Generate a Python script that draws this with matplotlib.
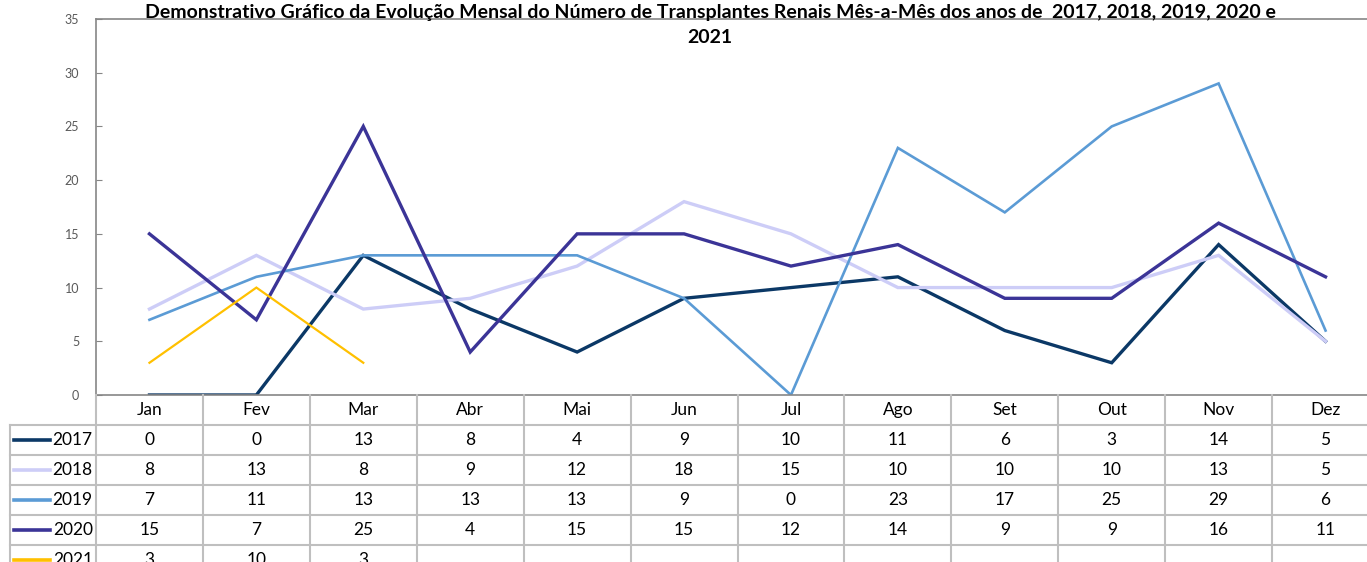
import matplotlib
matplotlib.use("Agg")
import matplotlib.pyplot as plt
from matplotlib.lines import Line2D

plt.rcParams['font.family'] = ['Lato', 'DejaVu Sans']

meses = ['Jan', 'Fev', 'Mar', 'Abr', 'Mai', 'Jun', 'Jul', 'Ago', 'Set', 'Out', 'Nov', 'Dez']
anos = ['2017', '2018', '2019', '2020', '2021']
v2017 = [0, 0, 13, 8, 4, 9, 10, 11, 6, 3, 14, 5]
v2018 = [8, 13, 8, 9, 12, 18, 15, 10, 10, 10, 13, 5]
v2019 = [7, 11, 13, 13, 13, 9, 0, 23, 17, 25, 29, 6]
v2020 = [15, 7, 25, 4, 15, 15, 12, 14, 9, 9, 16, 11]
v2021 = [3, 10, 3]
cores = ['#0b3866', '#cdcdf7', '#5b9bd5', '#3b3497', '#ffc000']
larguras = [2.4, 2.4, 1.9, 2.4, 1.6]
series = [v2017, v2018, v2019, v2020, v2021]

W, H = 1367, 562
fig = plt.figure(figsize=(W / 100, H / 100), dpi=100)

# plot area (extends a little past the right edge, like the cropped original)
x0, x1 = 96, 1379
y_top, y_bot = 19, 395
ax = fig.add_axes([x0 / W, 1 - y_bot / H, (x1 - x0) / W, (y_bot - y_top) / H])
for vals, cor, lw in zip(series, cores, larguras):
    ax.plot(range(len(vals)), vals, color=cor, linewidth=lw, solid_joinstyle='miter')
ax.set_xlim(-0.5, 11.5)
ax.set_ylim(0, 35)
ax.set_yticks(range(0, 36, 5))
ax.set_xticks([])
ax.tick_params(axis='y', direction='in', length=4, color='#868686',
               labelsize=9, labelcolor='#595959', pad=12)
for s in ['left', 'top', 'bottom']:
    ax.spines[s].set_color('#868686')
    ax.spines[s].set_linewidth(1.2)
ax.spines['right'].set_visible(False)

fig.text(710 / W, 1 - 25 / H,
         'Demonstrativo Gráfico da Evolução Mensal do Número de Transplantes Renais Mês-a-Mês dos anos de  2017, 2018, 2019, 2020 e\n2021',
         ha='center', va='center', fontsize=14, fontweight='bold', linespacing=1.55)

# data table
leg_w = 86 / ((x1 - x0) / 12)
row_h = 30
n_rows = len(anos) + 1
tb_top = y_bot
tb_bot = tb_top + n_rows * row_h
tx0 = 10
tax = fig.add_axes([tx0 / W, 1 - tb_bot / H, (x1 - tx0) / W, (tb_bot - tb_top) / H])
tax.set_xlim(-0.5 - leg_w, 11.5)
tax.set_ylim(n_rows, 0)
tax.axis('off')
grid = dict(color='#bfbfbf', linewidth=1.5, clip_on=False)
for r in range(1, n_rows):
    tax.plot([-0.5 - leg_w, 11.5], [r, r], **grid)
tax.plot([-0.5 - leg_w, -0.5 - leg_w], [1, n_rows], **grid)
for c in range(13):
    tax.plot([c - 0.5, c - 0.5], [0, n_rows], **grid)
for i, m in enumerate(meses):
    tax.text(i, 0.5, m, ha='center', va='center', fontsize=12.5)
for r, (ano, vals, cor) in enumerate(zip(anos, series, cores), start=1):
    tax.add_line(Line2D([-0.5 - leg_w + 0.04, -0.5 - leg_w + 0.37], [r + 0.5, r + 0.5],
                        color=cor, linewidth=2.6))
    tax.text(-0.53, r + 0.5, ano, ha='right', va='center', fontsize=12.5)
    for i, v in enumerate(vals):
        tax.text(i, r + 0.5, str(v), ha='center', va='center', fontsize=12.5)

fig.savefig('out.png', dpi=100)
